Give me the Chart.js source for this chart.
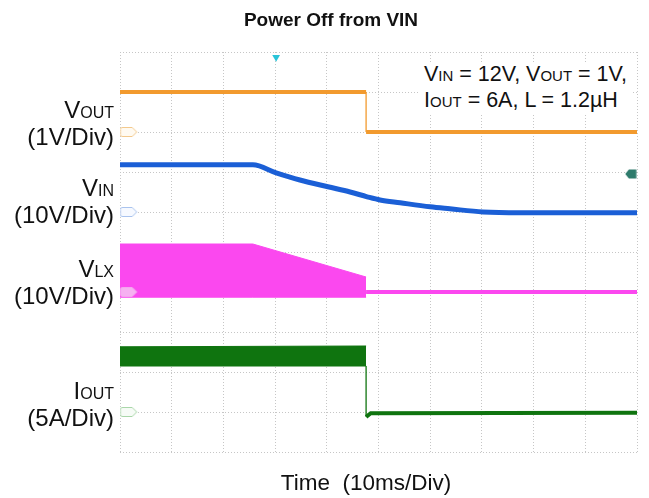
<!DOCTYPE html>
<html><head><meta charset="utf-8">
<script src="https://cdn.jsdelivr.net/npm/chart.js@4.4.0/dist/chart.umd.min.js"></script>
<style>
html,body{margin:0;padding:0;background:#fff;}
#wrap{position:relative;width:649px;height:498px;font-family:"Liberation Sans",Arial,sans-serif;color:#111;}
#c{position:absolute;left:0;top:0;}
.lbl{position:absolute;left:0;width:114px;text-align:right;font-size:24px;line-height:24px;white-space:nowrap;}
.s{font-size:16px;}
.note{position:absolute;left:420px;top:62px;width:213px;height:52px;background:#fff;font-size:21.5px;line-height:25px;white-space:nowrap;padding-left:4px;box-sizing:border-box;}
.ns{font-size:15px;}
.xt{position:absolute;left:216px;width:300px;top:469px;text-align:center;font-size:22.5px;line-height:28px;white-space:pre;}
</style></head>
<body>
<div id="wrap">
<canvas id="c" width="649" height="498"></canvas>
<div class="lbl" style="top:98px">V<span class="s">OUT</span><br>(1V/Div)</div>
<div class="lbl" style="top:176px">V<span class="s">IN</span><br>(10V/Div)</div>
<div class="lbl" style="top:257px">V<span class="s">LX</span><br>(10V/Div)</div>
<div class="lbl" style="top:379px">I<span class="s">OUT</span><br>(5A/Div)</div>
<div class="note">V<span class="ns">IN</span> = 12V, V<span class="ns">OUT</span> = 1V,<br>I<span class="ns">OUT</span> = 6A, L = 1.2µH</div>
<div class="xt">Time  (10ms/Div)</div>
</div>
<script>
// time axis: 0..100 ms (10 ms/div); vertical axis in screen divisions 0..10
const voutTime = [0, 47.6, 47.6, 100];
const voutDiv  = [9.0, 9.0, 8.0, 8.0];

const vinTime = [0, 25.7, 30.2, 34.8, 40.2, 44.5, 47.8, 50.3, 54.2, 60, 63.8, 70.2, 77.4, 100];
const vinDiv  = [7.18, 7.18, 6.98, 6.8, 6.63, 6.5, 6.38, 6.3, 6.23, 6.13, 6.08, 6.0, 5.98, 5.98];

const vlxBandTime = [0, 25.7, 47.6];
const vlxBandTop  = [5.2, 5.2, 4.375];
const vlxBandBot  = [3.87, 3.87, 3.87];
const vlxOffTime  = [47.6, 100];
const vlxOffDiv   = [4.0, 4.0];

const ioutBandTime = [0, 47.6];
const ioutBandTop  = [2.63, 2.65];
const ioutBandBot  = [2.15, 2.15];
const ioutOffTime  = [47.6, 47.6, 48.5, 100];
const ioutOffDiv   = [2.15, 0.88, 0.97, 0.98];

const refTime = 1.7;
const refLevels = [8.0, 6.0, 4.0, 1.0];
const triggerTime = 30.2;
const triggerLevel = 6.95;

const xTicksMax = 100, yDivs = 10;

function pts(xs, ys){ return xs.map((x,i)=>({x:x, y:ys[i]})); }

function tag(stroke, fill){
  const c = document.createElement('canvas'); c.width = 19; c.height = 12;
  const g = c.getContext('2d');
  g.beginPath();
  g.moveTo(3,1.5); g.lineTo(13,1.5); g.lineTo(17.5,6); g.lineTo(13,10.5); g.lineTo(3,10.5);
  g.quadraticCurveTo(1,10.5,1,8.5); g.lineTo(1,3.5); g.quadraticCurveTo(1,1.5,3,1.5);
  g.closePath();
  g.fillStyle = fill; g.fill();
  g.strokeStyle = stroke; g.lineWidth = 1; g.stroke();
  return c;
}
function trigTag(){
  const c = document.createElement('canvas'); c.width = 12; c.height = 10;
  const g = c.getContext('2d');
  g.beginPath(); g.moveTo(0.5,5); g.lineTo(4,0.5); g.lineTo(11.5,0.5); g.lineTo(11.5,9.5); g.lineTo(4,9.5); g.closePath();
  g.fillStyle = '#2e7b6c'; g.fill();
  return c;
}

const vertThin = ctx => (ctx.p0.parsed.x === ctx.p1.parsed.x ? 1.3 : undefined);

const datasets = [
  {label:'ref', data: refLevels.map(y=>({x:refTime,y:y})), showLine:false,
   pointStyle:[tag('#f3c98d','#fffaf1'), tag('#a9c3ee','#f6f9ff'), tag('#f4a6ee','#f6b0f1'), tag('#a9d6a9','#f6fbf6')],
   pointRadius:5, pointHoverRadius:5},
  {label:'trig', data:[{x:triggerTime,y:9.87}], showLine:false, pointStyle:'triangle', rotation:180,
   pointRadius:4.5, backgroundColor:'#29c4d8', borderWidth:0},
  {label:'trigLevel', data:[{x:98.8,y:triggerLevel}], showLine:false, pointStyle:trigTag(), pointRadius:5},
  {label:'VOUT', data: pts(voutTime, voutDiv), borderColor:'#f29a2e', borderWidth:4,
   segment:{borderWidth: vertThin}},
  {label:'VIN', data: pts(vinTime, vinDiv), borderColor:'#1b5fd6', borderWidth:5,
   tension:0.35, cubicInterpolationMode:'monotone'},
  {label:'VLX band', data: pts(vlxBandTime, vlxBandTop), borderColor:'#fb48ef', borderWidth:1,
   backgroundColor:'#fb48ef', fill:'+1'},
  {label:'VLX band low', data: pts(vlxBandTime, vlxBandBot), borderColor:'#fb48ef', borderWidth:1},
  {label:'VLX', data: pts(vlxOffTime, vlxOffDiv), borderColor:'#fb48ef', borderWidth:4},
  {label:'IOUT band', data: pts(ioutBandTime, ioutBandTop), borderColor:'#0f740f', borderWidth:1,
   backgroundColor:'#0f740f', fill:'+1'},
  {label:'IOUT band low', data: pts(ioutBandTime, ioutBandBot), borderColor:'#0f740f', borderWidth:1},
  {label:'IOUT', data: pts(ioutOffTime, ioutOffDiv), borderColor:'#0f740f', borderWidth:4,
   segment:{borderWidth: vertThin}}
];

new Chart(document.getElementById('c'), {
  type:'line',
  data:{datasets: datasets},
  options:{
    responsive:false, animation:false, devicePixelRatio:1,
    parsing:false,
    elements:{point:{radius:0, hitRadius:0}, line:{tension:0, borderCapStyle:'butt', borderJoinStyle:'miter'}},
    layout:{padding:{left:25, right:12, top:0, bottom:46}},
    plugins:{
      legend:{display:false}, tooltip:{enabled:false},
      title:{display:true, text:'Power Off from VIN', color:'#111',
        font:{family:'"Liberation Sans", Arial, sans-serif', size:19, weight:'bold', lineHeight:1.2},
        padding:{top:9, bottom:20.2}}
    },
    scales:{
      x:{type:'linear', min:0, max:xTicksMax,
        ticks:{display:false, stepSize:10},
        grid:{color:'#c6c6c6', lineWidth:1, drawTicks:false},
        border:{display:false, dash:[1,2]}},
      y:{type:'linear', min:0, max:yDivs,
        ticks:{display:false, stepSize:1},
        grid:{color:'#c6c6c6', lineWidth:1, drawTicks:false},
        border:{display:false, dash:[1,2]},
        afterFit: s => { s.width = 95; }}
    }
  }
});
</script>
</body></html>
